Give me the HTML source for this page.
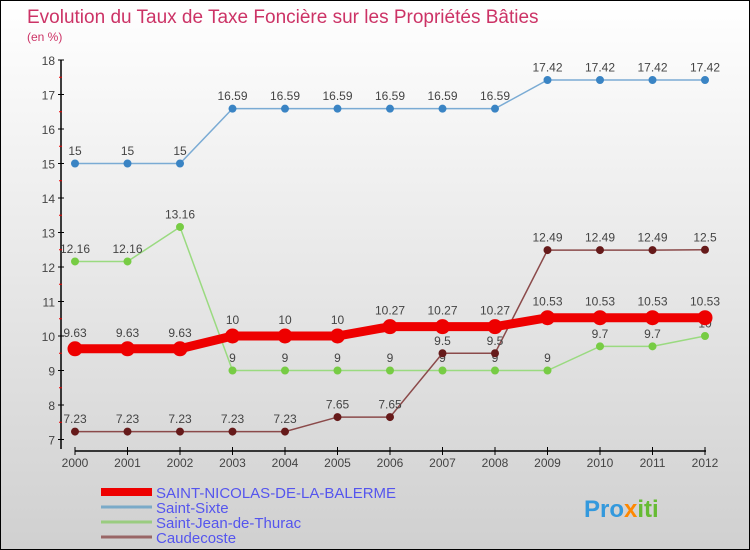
<!DOCTYPE html>
<html><head><meta charset="utf-8"><style>
body{margin:0}
#c{position:relative;width:748px;height:548px;border:1px solid #000;background:linear-gradient(#ffffff,#d0d0d0);font-family:"Liberation Sans",sans-serif;overflow:hidden}
</style></head><body>
<div id="c">
<svg id="s" width="748" height="548"></svg>
</div>
<script>
const years=["2000","2001","2002","2003","2004","2005","2006","2007","2008","2009","2010","2011","2012"];
const yTicks=[7,8,9,10,11,12,13,14,15,16,17,18];
const nicolas=[9.63,9.63,9.63,10,10,10,10.27,10.27,10.27,10.53,10.53,10.53,10.53];
const sixte=[15,15,15,16.59,16.59,16.59,16.59,16.59,16.59,17.42,17.42,17.42,17.42];
const thurac=[12.16,12.16,13.16,9,9,9,9,9,9,9,9.7,9.7,10];
const caude=[7.23,7.23,7.23,7.23,7.23,7.65,7.65,9.5,9.5,12.49,12.49,12.49,12.5];
const seriesNames=["SAINT-NICOLAS-DE-LA-BALERME","Saint-Sixte","Saint-Jean-de-Thurac","Caudecoste"];
const NS="http://www.w3.org/2000/svg";
const s=document.getElementById('s');
function X(i){return 74+i*52.5;}
function Y(v){return 59+(18-v)*34.5;}
function el(t,a,p){const e=document.createElementNS(NS,t);for(const k in a)e.setAttribute(k,a[k]);(p||s).appendChild(e);return e;}
function tx(x,y,str,a){const e=el('text',Object.assign({x:x,y:y,'font-size':12,fill:'#444'},a||{}));e.textContent=str;return e;}
let t=tx(26,22,"Evolution du Taux de Taxe Foncière sur les Propriétés Bâties",{'font-size':19,fill:'#cc3366'});

t=tx(26,40,"(en %)",{'font-size':12,fill:'#cc3366'});

let a=el('line',{x1:60,y1:59,x2:60,y2:448,stroke:'#000','stroke-width':1.5});

yTicks.forEach(v=>{el('line',{x1:57,x2:63,y1:Y(v),y2:Y(v),stroke:'#000'});
 if(v<18)el('line',{x1:58,x2:61,y1:Y(v+0.5),y2:Y(v+0.5),stroke:'#e00'});
 const l=tx(54,Y(v)+5,String(v),{'text-anchor':'end'});});
a=el('line',{x1:74,y1:450,x2:705,y2:450,stroke:'#000','stroke-width':1.5});

years.forEach((y,i)=>{el('line',{x1:X(i),x2:X(i),y1:446,y2:454,stroke:'#000'});
 const l=tx(X(i),466,y,{'text-anchor':'middle'});});
function series(data,color,w,r,fillc,name){
 const g=el('g',{});
 el('polyline',{points:data.map((v,i)=>X(i)+','+Y(v)).join(' '),fill:'none',stroke:color,'stroke-width':w},g);
 data.forEach((v,i)=>{const c=el('circle',{cx:X(i),cy:Y(v),r:r,fill:fillc,stroke:fillc},g);
  
  tx(X(i),Y(v)-(r+5),String(v),{'text-anchor':'middle',fill:'#444'},g);});
}
series(sixte,'#7aabd4',1.5,3.5,'#3a84c4','series-saint-sixte');
series(thurac,'#9ada80',1.5,3.5,'#77cc44','series-saint-jean-de-thurac');
series(caude,'#8b4a4a',1.5,3.5,'#661a1a','series-caudecoste');
series(nicolas,'#ee0000',9,7,'#ee0000','series-saint-nicolas');
const lc=['#ee0000','#7aaac8','#9acc80','#996666'],lw=[8,3,3,3];
seriesNames.forEach((n,i)=>{const y=491+i*15;
 const g=el('g',{});
 el('line',{x1:100,x2:151,y1:y,y2:y,stroke:lc[i],'stroke-width':lw[i]},g);
 tx(155,y+6,n,{'font-size':15,fill:'#5555ee'},g);});
const p=tx(583,516,"Pro",{'font-size':24,'font-weight':'bold',fill:'#3399dd'});

const t2=el('tspan',{fill:'#ff8800'},p);t2.textContent="x";
const t3=el('tspan',{fill:'#66bb33'},p);t3.textContent="iti";
</script>
</body></html>
